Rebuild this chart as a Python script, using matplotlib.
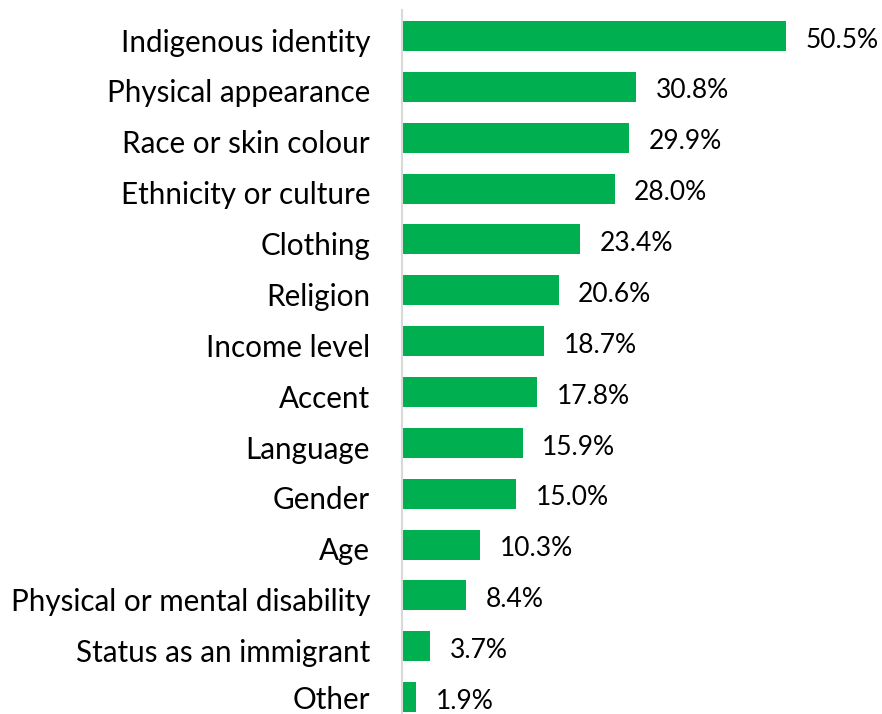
import matplotlib
matplotlib.use("Agg")
import matplotlib.pyplot as plt
import matplotlib.transforms as mtransforms

categories = [
    "Indigenous identity",
    "Physical appearance",
    "Race or skin colour",
    "Ethnicity or culture",
    "Clothing",
    "Religion",
    "Income level",
    "Accent",
    "Language",
    "Gender",
    "Age",
    "Physical or mental disability",
    "Status as an immigrant",
    "Other",
]
percent = [50.5, 30.8, 29.9, 28.0, 23.4, 20.6, 18.7, 17.8, 15.9, 15.0, 10.3, 8.4, 3.7, 1.9]

plt.rcParams["font.family"] = ["Lato", "DejaVu Sans"]

fig = plt.figure(figsize=(8.82, 7.14), dpi=100)
ax = fig.add_axes([402 / 882, 0.0, 456 / 882, 704 / 714])

pos = list(range(len(categories)))
ax.barh(pos, percent, height=0.59, color="#00b050")

for y, v in zip(pos, percent):
    ax.annotate(f"{v:.1f}%", (v, y), xytext=(14, -3), textcoords="offset points",
                va="center", ha="left", fontsize=19, color="black")

ax.set_xlim(0, 60)
ax.set_ylim(13.33, -0.51)
ax.set_yticks(pos)
ax.set_yticklabels(categories, fontsize=21.3)
ax.tick_params(axis="y", length=0, pad=23)
ax.set_xticks([])

# nudge the category labels down a little (the bottom one stays inside the figure)
shift = mtransforms.ScaledTranslation(0, -3 / 72, fig.dpi_scale_trans)
for lbl in ax.get_yticklabels()[:-1]:
    lbl.set_transform(lbl.get_transform() + shift)

for side in ["top", "right", "bottom"]:
    ax.spines[side].set_visible(False)
ax.spines["left"].set_color("#d9d9d9")
ax.spines["left"].set_linewidth(1.5)

fig.savefig("out.png", dpi=100)
